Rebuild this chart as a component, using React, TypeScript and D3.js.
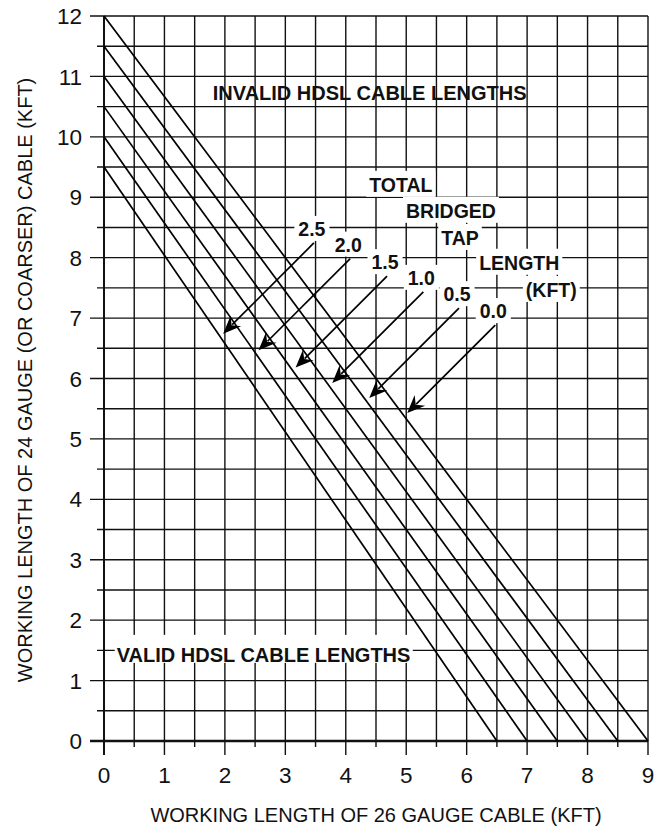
import React, { useEffect } from "react";
import * as d3 from "d3";

// ---- data ----
const xTicks = [0, 1, 2, 3, 4, 5, 6, 7, 8, 9];
const yTicks = [0, 1, 2, 3, 4, 5, 6, 7, 8, 9, 10, 11, 12];
const tapLengths = ["2.5", "2.0", "1.5", "1.0", "0.5", "0.0"];
const yIntercepts = [9.5, 10, 10.5, 11, 11.5, 12]; // 24 gauge length at 0 kft of 26 gauge
const xIntercepts = [6.5, 7, 7.5, 8, 8.5, 9]; // 26 gauge length at 0 kft of 24 gauge
const tapLabelX = [3.44, 4.04, 4.65, 5.25, 5.84, 6.44];
const tapLabelY = [8.36, 8.1, 7.81, 7.55, 7.28, 7.0];
const legendWords = ["TOTAL", "BRIDGED", "TAP", "LENGTH", "(KFT)"];
const legendX = [4.91, 5.74, 5.89, 6.87, 7.4];
const legendY = [9.09, 8.66, 8.21, 7.8, 7.35];
const regionLabels = ["INVALID HDSL CABLE LENGTHS", "VALID HDSL CABLE LENGTHS"];
const regionX = [1.8, 0.21];
const regionY = [10.61, 1.31];
const regionBoxed = [false, true];
const xTitle = "WORKING LENGTH OF 26 GAUGE CABLE (KFT)";
const yTitle = "WORKING LENGTH OF 24 GAUGE (OR COARSER) CABLE (KFT)";

const FONT = "'Liberation Sans', Arial, Helvetica, sans-serif";

let _ctx: CanvasRenderingContext2D | null = null;
function measure(text: string, font: string): number {
  if (!_ctx) _ctx = document.createElement("canvas").getContext("2d");
  if (!_ctx) return text.length * 10;
  _ctx.font = font;
  return _ctx.measureText(text).width;
}

export default function App() {
  useEffect(() => {
    document.body.style.margin = "0";
  }, []);

  const W = 661;
  const H = 830;
  const x = d3.scaleLinear().domain([0, 9]).range([104, 648]);
  const y = d3.scaleLinear().domain([0, 12]).range([741, 16]);

  const gridXs = d3.range(0, 9.001, 0.5);
  const gridYs = d3.range(0, 12.001, 0.5);
  const isMajor = (v: number) => Math.abs(v - Math.round(v)) < 1e-6;

  const stroke = "#111";
  const lineGen = d3.line<[number, number]>().x((d) => x(d[0])).y((d) => y(d[1]));

  // arrows
  const arrows = tapLengths.map((t, i) => {
    const tx = x(tapLabelX[i]) + 2;
    const ty = y(tapLabelY[i]) + 7;
    const p0 = [x(0), y(yIntercepts[i])];
    const p1 = [x(xIntercepts[i]), y(0)];
    const dx = p1[0] - p0[0];
    const dy = p1[1] - p0[1];
    const s = (tx + ty - p0[0] - p0[1]) / (dx + dy);
    const ix = p0[0] + s * dx;
    const tt = tx - ix;
    const tEnd = tt - 3;
    const hx = tx - tEnd;
    const hy = ty + tEnd;
    return { tx, ty, hx, hy };
  });

  const arrowHead = (hx: number, hy: number) => {
    const ux = -Math.SQRT1_2;
    const uy = Math.SQRT1_2;
    const px = -uy;
    const py = ux;
    const L = 18;
    const Wd = 7.5;
    const n = 12;
    const bx = hx - ux * L;
    const by = hy - uy * L;
    const nx = hx - ux * n;
    const ny = hy - uy * n;
    return `M${hx},${hy} L${bx + px * Wd},${by + py * Wd} L${nx},${ny} L${bx - px * Wd},${by - py * Wd} Z`;
  };

  const tapFont = `bold 19.5px ${FONT}`;
  const bigFont = `bold 20px ${FONT}`;

  const box = (cx: number, base: number, w: number, anchor: "middle" | "start", key: string, top = 20, bottom = 5, pad = 3) => {
    const left = anchor === "middle" ? cx - w / 2 - pad : cx - pad;
    return <rect key={key} x={left} y={base - top} width={w + 2 * pad} height={top + bottom} fill="#fff" />;
  };

  return (
    <svg width={W} height={H} style={{ position: "absolute", left: 0, top: 0, background: "#fff" }} fontFamily={FONT}>
      <rect x={0} y={0} width={W} height={H} fill="#fff" />
      {gridXs.map((v) => (
        <line
          key={"gx" + v}
          x1={x(v)}
          x2={x(v)}
          y1={y(12)}
          y2={isMajor(v) ? 755 : 747}
          stroke={stroke}
          strokeWidth={v === 0 ? 2 : 1.4}
        />
      ))}
      {gridYs.map((v) => (
        <line
          key={"gy" + v}
          x1={isMajor(v) ? 90 : 97}
          x2={x(9)}
          y1={y(v)}
          y2={y(v)}
          stroke={stroke}
          strokeWidth={v === 0 ? 2.4 : v === 12 ? 1.6 : 1.4}
        />
      ))}
      {xTicks.map((v) => (
        <text key={"xt" + v} x={x(v)} y={783} fontSize={22.5} textAnchor="middle" fill="#111">
          {v}
        </text>
      ))}
      {yTicks.map((v) => (
        <text key={"yt" + v} x={82} y={y(v)} dy="0.36em" fontSize={22.5} textAnchor="end" fill="#111">
          {v}
        </text>
      ))}
      <text x={376} y={822} fontSize={20} textAnchor="middle" fill="#111">
        {xTitle}
      </text>
      <text
        transform={`translate(25,${380}) rotate(-90)`}
        fontSize={20}
        textAnchor="middle"
        dy="0.36em"
        fill="#111"
      >
        {yTitle}
      </text>

      {regionLabels.map((t, i) => {
        const w = measure(t, bigFont);
        const px = x(regionX[i]);
        const py = y(regionY[i]);
        return (
          <g key={"rl" + i}>
            {regionBoxed[i] && box(px, py, w, "start", "rb" + i, 27, 1, 2)}
            <text x={px} y={py} fontSize={20} fontWeight="bold" fill="#111">
              {t}
            </text>
          </g>
        );
      })}

      {legendWords.map((t, i) => {
        const w = measure(t, tapFont);
        const px = x(legendX[i]);
        const py = y(legendY[i]);
        return (
          <g key={"lw" + i}>
            {box(px, py, w, "middle", "lb" + i, 21, 5, 3)}
            <text x={px} y={py} fontSize={19.5} fontWeight="bold" textAnchor="middle" fill="#111">
              {t}
            </text>
          </g>
        );
      })}

      {tapLengths.map((t, i) => {
        const w = measure(t, tapFont);
        const px = x(tapLabelX[i]);
        const py = y(tapLabelY[i]);
        return (
          <g key={"tl" + i}>
            {box(px, py, w, "middle", "tb" + i, 20, 5, 4)}
            <text x={px} y={py} fontSize={19.5} fontWeight="bold" textAnchor="middle" fill="#111">
              {t}
            </text>
          </g>
        );
      })}

      {yIntercepts.map((y0, i) => (
        <path
          key={"cl" + i}
          d={lineGen([
            [0, y0],
            [xIntercepts[i], 0],
          ]) || ""}
          stroke="#000"
          strokeWidth={1.7}
          fill="none"
        />
      ))}

      {arrows.map((a, i) => (
        <g key={"ar" + i}>
          <line x1={a.tx} y1={a.ty} x2={a.hx + 9} y2={a.hy - 9} stroke="#000" strokeWidth={1.7} />
          <path d={arrowHead(a.hx, a.hy)} fill="#000" />
        </g>
      ))}
    </svg>
  );
}
